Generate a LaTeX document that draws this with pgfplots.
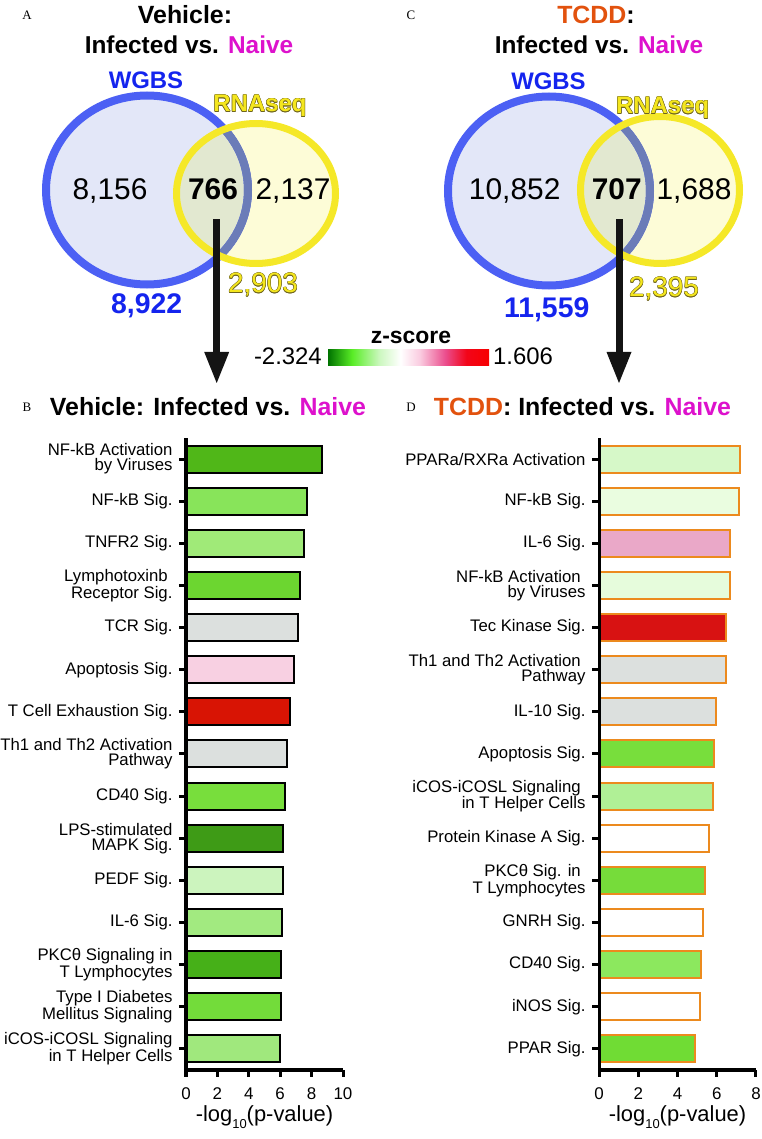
\documentclass[border=0pt]{standalone}
\usepackage{pgfplots}
\pgfplotsset{compat=1.18}
\usepackage{fontspec}
\setmainfont{Liberation Sans}
\newfontfamily\seriffont{Liberation Serif}
\newcommand\fs[1]{\fontsize{#1}{#1}\selectfont}

\definecolor{naive}{RGB}{221,17,204}
\definecolor{tcdd}{RGB}{226,82,14}
\definecolor{wgbs}{RGB}{20,36,238}
\definecolor{bluein}{RGB}{227,231,248}
\definecolor{ylwin}{RGB}{253,252,215}
\definecolor{overlap}{RGB}{226,232,208}
\definecolor{bluering}{RGB}{76,96,244}
\definecolor{bluemuted}{RGB}{107,124,184}
\definecolor{ylwring}{RGB}{245,232,40}
\definecolor{ylwtext}{RGB}{244,230,30}
\definecolor{ylwdark}{RGB}{110,100,30}
\definecolor{orangeb}{RGB}{236,138,30}

% left bar colours
\definecolor{La}{RGB}{80,183,24}
\definecolor{Lb}{RGB}{136,228,90}
\definecolor{Lc}{RGB}{160,234,120}
\definecolor{Ld}{RGB}{108,214,48}
\definecolor{Le}{RGB}{220,224,222}
\definecolor{Lf}{RGB}{248,208,226}
\definecolor{Lg}{RGB}{216,20,4}
\definecolor{Lh}{RGB}{220,224,222}
\definecolor{Li}{RGB}{120,222,60}
\definecolor{Lj}{RGB}{62,155,22}
\definecolor{Lk}{RGB}{204,244,190}
\definecolor{Ll}{RGB}{162,234,128}
\definecolor{Lm}{RGB}{70,176,24}
\definecolor{Ln}{RGB}{115,220,58}
\definecolor{Lo}{RGB}{160,232,125}
% right bar colours
\definecolor{Ra}{RGB}{214,248,200}
\definecolor{Rb}{RGB}{234,253,224}
\definecolor{Rc}{RGB}{234,168,200}
\definecolor{Rd}{RGB}{230,252,220}
\definecolor{Re}{RGB}{216,18,18}
\definecolor{Rf}{RGB}{220,224,222}
\definecolor{Rg}{RGB}{220,224,222}
\definecolor{Rh}{RGB}{120,222,60}
\definecolor{Ri}{RGB}{176,240,150}
\definecolor{Rj}{RGB}{255,255,255}
\definecolor{Rk}{RGB}{118,220,58}
\definecolor{Rl}{RGB}{255,255,255}
\definecolor{Rm}{RGB}{140,232,94}
\definecolor{Rn}{RGB}{255,255,255}
\definecolor{Ro}{RGB}{112,220,52}

\pgfdeclarehorizontalshading{zscore}{100bp}{%
 rgb(0bp)=(0,0.45,0); rgb(25bp)=(0,0.45,0); rgb(32.5bp)=(0.35,0.93,0.15);
 rgb(41bp)=(0.8,0.97,0.75); rgb(47.5bp)=(1,1,1); rgb(53.5bp)=(0.98,0.8,0.88);
 rgb(61.5bp)=(0.92,0.3,0.55); rgb(68bp)=(0.95,0.02,0.1); rgb(75bp)=(0.97,0,0);
 rgb(100bp)=(0.97,0,0)}

\newcommand\otext[4]{%
 \foreach \dx/\dy in {0.45/0,-0.45/0,0/0.45,0/-0.45,0.32/0.32,-0.32/0.32,0.32/-0.32,-0.32/-0.32}{%
  \node[anchor=base, text=ylwdark, font=#3, xshift=\dx bp, yshift=\dy bp, inner sep=0pt] at (#1,#2) {#4};}
 \node[anchor=base, text=ylwtext, font=#3, inner sep=0pt] at (#1,#2) {#4};}

\newcommand\venn[8]{% bx, by, brx, bry, yx, yy, yrx, yry
 \fill[bluein] (#1,#2) ellipse [x radius=#3, y radius=#4];
 \fill[ylwin] (#5,#6) ellipse [x radius=#7, y radius=#8];
 \begin{scope}\clip (#1,#2) ellipse [x radius=#3, y radius=#4];
  \fill[overlap] (#5,#6) ellipse [x radius=#7, y radius=#8];\end{scope}
 \draw[bluering, line width=8bp] (#1,#2) ellipse [x radius=#3, y radius=#4];
 \begin{scope}\clip (#5,#6) ellipse [x radius=#7, y radius=#8];
  \draw[bluemuted, line width=8bp] (#1,#2) ellipse [x radius=#3, y radius=#4];\end{scope}
 \draw[ylwring, line width=7bp] (#5,#6) ellipse [x radius=#7, y radius=#8];
}

\pgfplotsset{
 barax/.style={
  scale only axis, width=157bp, height=632bp,
  enlargelimits=false, xmin=0, ymin=0.5, ymax=15.5,
  axis x line*=bottom, axis y line*=left, axis on top,
  axis line style={line width=3bp,-,black},
  tick align=outside, major tick length=7bp,
  major tick style={line width=3bp,black},
  ytick={1,...,15},
  yticklabel style={align=right, font=\fontsize{16.8}{15}\selectfont, xshift=-3bp},
  xticklabel style={font=\fs{17}},
  xticklabel shift=7bp,
  /pgf/number format/assume math mode=true,
  xlabel={-log\raisebox{-0.32em}{\fs{13}10}(p-value)},
  xlabel style={font=\fs{22}, at={(axis description cs:0.5,0)}, anchor=base, yshift=-51.7bp},
  xbar, clip=false,
 },
 lb/.style={fill=#1, draw=black, line width=2bp, bar shift=0pt, bar width=27bp},
 rb/.style={fill=#1, draw=orangeb, line width=2bp, bar shift=0pt, bar width=27bp},
}

\begin{document}
\begin{tikzpicture}
\path[use as bounding box] (0bp,0bp) rectangle (762bp,1139bp);
\begin{scope}[x=1bp,y=1bp]

% ---------- panel A ----------
\node[anchor=base, font=\seriffont\fs{13}] at (27,1119) {A};
\node[anchor=base, font=\bfseries\fs{25}] at (185,1115.7) {Vehicle:};
\node[anchor=base, font=\bfseries\fs{24.5}] at (189,1085.7) {Infected vs. \textcolor{naive}{Naive}};
\venn{147}{949}{101}{94.5}{256}{945.5}{79.5}{70}
\node[anchor=base, font=\bfseries\fs{24}, text=wgbs] at (146,1050.7) {WGBS};
\otext{260}{1027.3}{\bfseries\fs{24}}{RNAseq}
\node[anchor=base, font=\fs{30}] at (110,939) {8,156};
\node[anchor=base, font=\bfseries\fs{30}] at (213,939) {766};
\node[anchor=base, font=\fs{30}] at (293,939) {2,137};
\node[anchor=base, font=\bfseries\fs{28.5}, text=wgbs] at (146.7,825) {8,922};
\otext{263}{846.3}{\fs{28}}{2,903}
\draw[line width=7bp, black!92] (216.7,919.7) -- (216.7,786);
\fill[black!92] (204.2,787) -- (229.2,787) -- (216.7,756) -- cycle;

% ---------- panel C ----------
\node[anchor=base, font=\seriffont\fs{13}] at (411,1119) {C};
\node[anchor=base, font=\bfseries\fs{25}] at (596,1115.5) {\textcolor{tcdd}{TCDD}:};
\node[anchor=base, font=\bfseries\fs{24.5}] at (599,1085.7) {Infected vs. \textcolor{naive}{Naive}};
\venn{549}{948}{101}{94.5}{660}{949}{79.5}{73.5}
\node[anchor=base, font=\bfseries\fs{24}, text=wgbs] at (548.5,1049.7) {WGBS};
\otext{662.7}{1025}{\bfseries\fs{24}}{RNAseq}
\node[anchor=base, font=\fs{30}] at (514.7,939) {10,852};
\node[anchor=base, font=\bfseries\fs{30}] at (616.8,939) {707};
\node[anchor=base, font=\fs{30}] at (694,939) {1,688};
\node[anchor=base, font=\bfseries\fs{28.5}, text=wgbs] at (546.7,821.7) {11,559};
\otext{664}{842.3}{\fs{28}}{2,395}
\draw[line width=7bp, black!92] (619,919.7) -- (619,786);
\fill[black!92] (606.5,787) -- (631.5,787) -- (619,756) -- cycle;

% ---------- colour bar ----------
\node[anchor=base, font=\bfseries\fs{23}] at (411,795.7) {z-score};
\shade[shading=zscore] (328,773) rectangle (489,789);
\node[anchor=base east, font=\fs{24}, inner sep=0pt] at (322,774) {-2.324};
\node[anchor=base west, font=\fs{24}, inner sep=0pt] at (493,774) {1.606};

% ---------- titles B, D ----------
\node[anchor=base, font=\seriffont\fs{13}] at (27,727.3) {B};
\node[anchor=base, font=\bfseries\fs{25}] at (208,723) {Vehicle: Infected vs. \textcolor{naive}{Naive}};
\node[anchor=base, font=\seriffont\fs{13}] at (411,727.3) {D};
\node[anchor=base, font=\bfseries\fs{25}] at (582.5,723) {\textcolor{tcdd}{TCDD}: Infected vs. \textcolor{naive}{Naive}};
\end{scope}

% ---------- panel B (categories listed bottom to top) ----------
\begin{axis}[barax, at={(186bp,69bp)}, anchor=south west,
  xmax=10, xtick={0,2,...,10},
  yticklabels={{iCOS-iCOSL Signaling\\in T Helper Cells},{Type I Diabetes\\Mellitus Signaling},
   {PKCθ Signaling in\\T Lymphocytes},{IL-6 Sig.},{PEDF Sig.},
   {LPS-stimulated\\MAPK Sig.},{CD40 Sig.},{Th1 and Th2 Activation\\Pathway},
   {T Cell Exhaustion Sig.},{Apoptosis Sig.},{TCR Sig.},
   {Lymphotoxinb\hspace*{0.28em}\\Receptor Sig.},{TNFR2 Sig.},{NF-kB Sig.},
   {NF-kB Activation\\by Viruses}}]
\addplot[lb=La] coordinates {(8.64,15)};
\addplot[lb=Lb] coordinates {(7.71,14)};
\addplot[lb=Lc] coordinates {(7.54,13)};
\addplot[lb=Ld] coordinates {(7.26,12)};
\addplot[lb=Le] coordinates {(7.13,11)};
\addplot[lb=Lf] coordinates {(6.90,10)};
\addplot[lb=Lg] coordinates {(6.65,9)};
\addplot[lb=Lh] coordinates {(6.43,8)};
\addplot[lb=Li] coordinates {(6.31,7)};
\addplot[lb=Lj] coordinates {(6.20,6)};
\addplot[lb=Lk] coordinates {(6.18,5)};
\addplot[lb=Ll] coordinates {(6.11,4)};
\addplot[lb=Lm] coordinates {(6.05,3)};
\addplot[lb=Ln] coordinates {(6.03,2)};
\addplot[lb=Lo] coordinates {(5.99,1)};
\end{axis}

% ---------- panel D (categories listed bottom to top) ----------
\begin{axis}[barax, at={(599bp,69bp)}, anchor=south west,
  xmax=8, xtick={0,2,...,8},
  yticklabels={{PPAR Sig.},{iNOS Sig.},{CD40 Sig.},{GNRH Sig.},
   {PKCθ Sig. in\hspace*{0.28em}\\T Lymphocytes},{Protein Kinase A Sig.},
   {iCOS-iCOSL Signaling\hspace*{0.28em}\\in T Helper Cells},{Apoptosis Sig.},{IL-10 Sig.},
   {Th1 and Th2 Activation\hspace*{0.28em}\\Pathway},{Tec Kinase Sig.},
   {NF-kB Activation\hspace*{0.28em}\\by Viruses},{IL-6 Sig.},{NF-kB Sig.},
   {PPARa/RXRa Activation}}]
\addplot[rb=Ra] coordinates {(7.16,15)};
\addplot[rb=Rb] coordinates {(7.13,14)};
\addplot[rb=Rc] coordinates {(6.70,13)};
\addplot[rb=Rd] coordinates {(6.70,12)};
\addplot[rb=Re] coordinates {(6.48,11)};
\addplot[rb=Rf] coordinates {(6.47,10)};
\addplot[rb=Rg] coordinates {(5.94,9)};
\addplot[rb=Rh] coordinates {(5.87,8)};
\addplot[rb=Ri] coordinates {(5.83,7)};
\addplot[rb=Rj] coordinates {(5.61,6)};
\addplot[rb=Rk] coordinates {(5.41,5)};
\addplot[rb=Rl] coordinates {(5.29,4)};
\addplot[rb=Rm] coordinates {(5.20,3)};
\addplot[rb=Rn] coordinates {(5.15,2)};
\addplot[rb=Ro] coordinates {(4.90,1)};
\end{axis}
\end{tikzpicture}
\end{document}
